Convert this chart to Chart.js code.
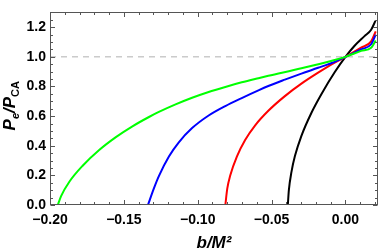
<!DOCTYPE html>
<html>
<head>
<meta charset="utf-8">
<script src="https://cdn.jsdelivr.net/npm/chart.js@4.4.1/dist/chart.umd.min.js"></script>
<style>
  html, body { margin: 0; padding: 0; background: #fff; }
  canvas { display: block; }
</style>
</head>
<body>
<canvas id="powerChart" width="382" height="252"></canvas>
<script>
// ---- data (b/M^2 -> P_e/P_CA) ----
const greenB = [-0.1947, -0.1925, -0.1869, -0.1779, -0.1667, -0.1554, -0.1442, -0.133, -0.1263, -0.115, -0.1038, -0.0926, -0.0813, -0.0702, -0.0589, -0.0522, -0.0298, -0.0073, 0, 0.0106, 0.0174, 0.0205];
const greenP = [0, 0.06, 0.157, 0.265, 0.371, 0.458, 0.531, 0.594, 0.628, 0.679, 0.724, 0.763, 0.797, 0.828, 0.856, 0.872, 0.923, 0.979, 1.0, 1.04, 1.062, 1.11];

const blueB = [-0.1337, -0.1296, -0.1263, -0.1195, -0.1128, -0.1038, -0.0926, -0.0813, -0.0702, -0.0589, -0.0522, -0.041, -0.0298, -0.0185, -0.0073, 0, 0.0106, 0.0174, 0.0205];
const blueP = [0, 0.114, 0.195, 0.327, 0.423, 0.519, 0.604, 0.668, 0.722, 0.774, 0.803, 0.846, 0.887, 0.926, 0.966, 1.0, 1.05, 1.085, 1.15];

const redB = [-0.0813, -0.0800, -0.078, -0.0735, -0.0679, -0.0611, -0.0522, -0.041, -0.0298, -0.0185, -0.0073, 0, 0.0106, 0.0174, 0.0205];
const redP = [0, 0.11, 0.199, 0.327, 0.439, 0.538, 0.636, 0.735, 0.819, 0.893, 0.961, 1.0, 1.062, 1.104, 1.172];

const blackB = [-0.039, -0.0383, -0.0365, -0.0342, -0.0298, -0.023, -0.0163, -0.0073, 0, 0.0062, 0.0129, 0.0174, 0.0203];
const blackP = [0, 0.1, 0.225, 0.33, 0.467, 0.623, 0.748, 0.896, 1.0, 1.075, 1.14, 1.183, 1.243];

// dashed reference line at P_e/P_CA = 1
const refB = [-0.2, 0.022];
const refP = [1, 1];

// tick labels
const xMajorTicks = [-0.20, -0.15, -0.10, -0.05, 0.00];
const xTickLabels = ['\u22120.20', '\u22120.15', '\u22120.10', '\u22120.05', '0.00'];
const yMajorTicks = [0, 0.2, 0.4, 0.6, 0.8, 1.0, 1.2];
const yTickLabels = ['0.0', '0.2', '0.4', '0.6', '0.8', '1.0', '1.2'];

const FONT = "'Liberation Sans', Arial, sans-serif";

function toPoints(xs, ys) {
    return xs.map((x, i) => ({ x: x, y: ys[i] }));
}

function labelFor(v, majors, labels) {
    const i = majors.findIndex(m => Math.abs(m - v) < 1e-6);
    return i >= 0 ? labels[i] : '';
}

function curve(xs, ys, color) {
    return {
        data: toPoints(xs, ys),
        borderColor: color,
        borderWidth: 2,
        pointRadius: 0,
        fill: false,
        cubicInterpolationMode: 'monotone'
    };
}

/* frame with inward ticks on all four sides (Mathematica style) */
const frameTicks = {
    id: 'frameTicks',
    afterDraw(chart) {
        const { ctx, chartArea: a, scales: { x, y } } = chart;
        const L = Math.round(a.left) + 0.5, R = Math.round(a.right) - 0.5;
        const T = Math.round(a.top) + 0.5, B = Math.round(a.bottom) - 0.5;
        ctx.save();
        ctx.strokeStyle = '#555';
        ctx.lineWidth = 1;
        ctx.strokeRect(L, T, R - L, B - T);

        ctx.beginPath();
        x.ticks.forEach(t => {
            const px = Math.round(x.getPixelForValue(t.value)) + 0.5;
            const len = labelFor(t.value, xMajorTicks, xTickLabels) ? 4.5 : 2.5;
            ctx.moveTo(px, B); ctx.lineTo(px, B - len);
            ctx.moveTo(px, T); ctx.lineTo(px, T + len);
        });
        y.ticks.forEach(t => {
            const py = Math.round(y.getPixelForValue(t.value)) + 0.5;
            const len = labelFor(t.value, yMajorTicks, yTickLabels) ? 4.5 : 2.5;
            ctx.moveTo(L, py); ctx.lineTo(L + len, py);
            ctx.moveTo(R, py); ctx.lineTo(R - len, py);
        });
        ctx.stroke();
        ctx.restore();
    }
};

/* rotated y title with subscripts: P_e / P_CA */
const yTitle = {
    id: 'yTitle',
    afterDraw(chart) {
        const { ctx, chartArea: a } = chart;
        const big = `italic bold 17px ${FONT}`;
        const subI = `italic bold 11px ${FONT}`;
        const sub = `bold 11px ${FONT}`;
        const parts = [
            { t: 'P', f: big, dy: 0 },
            { t: 'e', f: subI, dy: 4 },
            { t: '/', f: big, dy: 0 },
            { t: 'P', f: big, dy: 0 },
            { t: 'CA', f: sub, dy: 4 }
        ];
        ctx.save();
        let total = 0;
        parts.forEach(p => { ctx.font = p.f; p.w = ctx.measureText(p.t).width; total += p.w; });
        const cy = (a.top + a.bottom) / 2 - 3;
        ctx.translate(14.5, cy);
        ctx.rotate(-Math.PI / 2);
        ctx.fillStyle = '#000';
        ctx.textBaseline = 'alphabetic';
        let pos = -total / 2;
        parts.forEach(p => {
            ctx.font = p.f;
            ctx.fillText(p.t, pos, p.dy);
            pos += p.w;
        });
        ctx.restore();
    }
};

new Chart(document.getElementById('powerChart'), {
    type: 'line',
    data: {
        datasets: [
            curve(greenB, greenP, '#00ff00'),
            curve(blueB, blueP, '#0000ff'),
            curve(redB, redP, '#ff0000'),
            curve(blackB, blackP, '#000000'),
            {
                data: toPoints(refB, refP),
                borderColor: '#b0b0b0',
                borderWidth: 1,
                borderDash: [6, 5],
                pointRadius: 0,
                fill: false
            }
        ]
    },
    options: {
        responsive: false,
        animation: false,
        devicePixelRatio: 1,
        layout: { padding: { top: 1, right: 2, left: 0, bottom: 0 } },
        plugins: {
            legend: { display: false },
            tooltip: { enabled: false }
        },
        scales: {
            x: {
                type: 'linear',
                min: -0.2,
                max: 0.022,
                afterFit(s) { s.height = 47; },
                border: { display: false },
                grid: { display: false, drawTicks: false },
                ticks: {
                    stepSize: 0.01,
                    includeBounds: false,
                    autoSkip: false,
                    maxRotation: 0,
                    padding: 7,
                    color: '#000',
                    font: { family: FONT, size: 14, weight: 'bold' },
                    callback: v => labelFor(v, xMajorTicks, xTickLabels)
                },
                title: {
                    display: true,
                    text: 'b/M\u00b2',
                    color: '#000',
                    font: { family: FONT, size: 17, weight: 'bold', style: 'italic' },
                    padding: { top: 0, bottom: -2 }
                }
            },
            y: {
                min: 0,
                max: 1.3,
                afterFit(s) { s.width = 50; },
                border: { display: false },
                grid: { display: false, drawTicks: false },
                ticks: {
                    stepSize: 0.05,
                    includeBounds: false,
                    autoSkip: false,
                    padding: 4,
                    color: '#000',
                    font: { family: FONT, size: 14, weight: 'bold' },
                    callback: v => labelFor(v, yMajorTicks, yTickLabels)
                }
            }
        }
    },
    plugins: [frameTicks, yTitle]
});
</script>
</body>
</html>
